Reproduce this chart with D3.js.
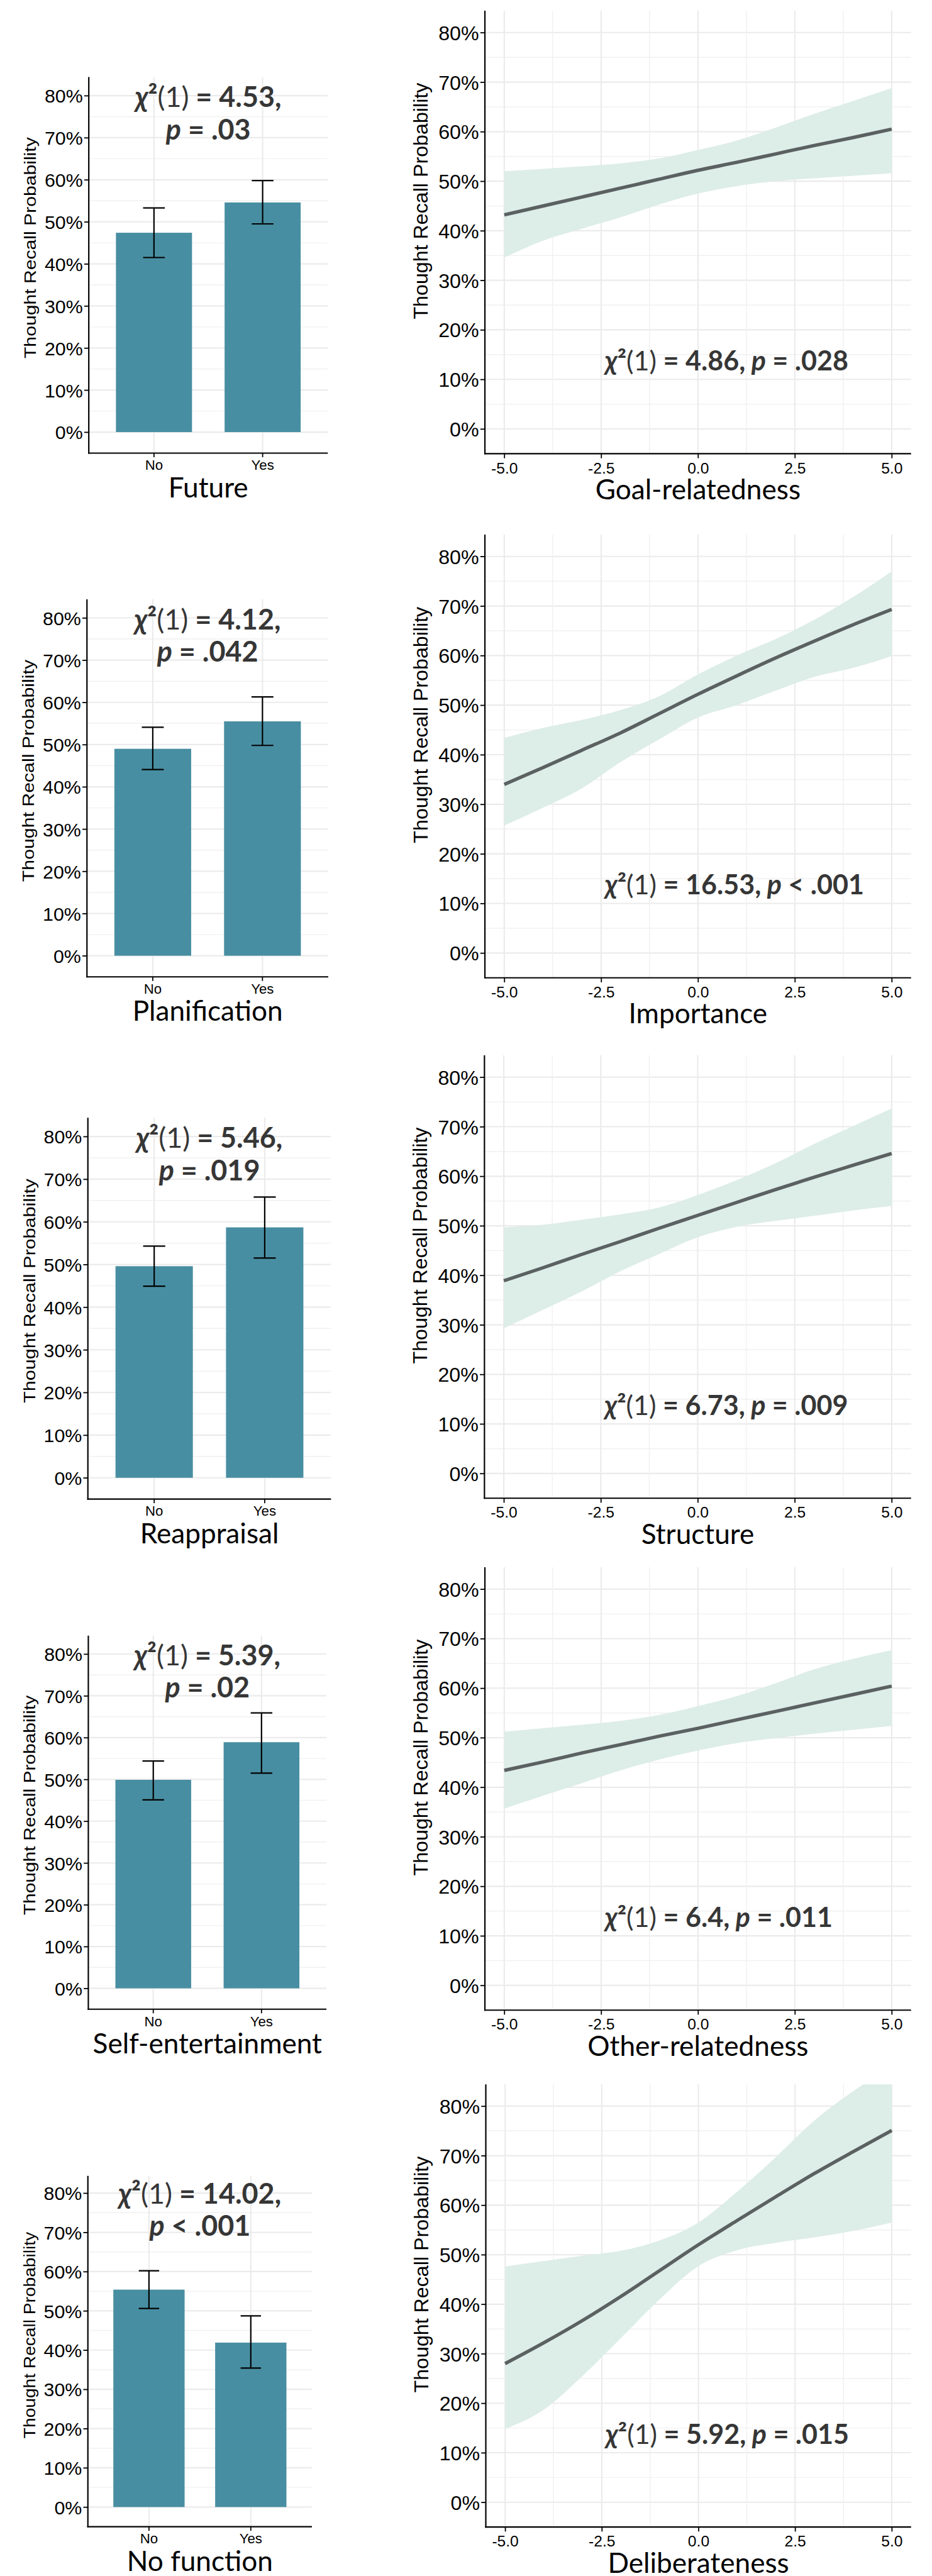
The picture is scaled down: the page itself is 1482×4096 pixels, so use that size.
<!DOCTYPE html>
<html>
<head>
<meta charset="utf-8">
<script src="https://cdn.jsdelivr.net/npm/d3@7"></script>
<style>
  body { margin: 0; background: #fff; }
  svg { display: block; }
</style>
</head>
<body>
<svg id="chart" width="1482" height="4096"></svg>
<script>
// ---------- data ----------
// Binary thought functions: recall probability (%) with 95% CI, by No / Yes
const barFactors = ["Future", "Planification", "Reappraisal", "Self-entertainment", "No function"];
const barCategories = ["No", "Yes"];
const barMeans = [[47.4, 54.6], [49.0, 55.5], [49.6, 58.7], [49.9, 58.9], [55.4, 41.9]];
const barLow   = [[41.5, 49.5], [44.1, 49.8], [44.9, 51.5], [45.1, 51.5], [50.6, 35.4]];
const barHigh  = [[53.3, 59.8], [54.1, 61.3], [54.3, 65.8], [54.4, 65.9], [60.2, 48.7]];
const barChiSq = ["4.53", "4.12", "5.46", "5.39", "14.02"];
const barPText = ["= .03", "= .042", "= .019", "= .02", "< .001"];

// Continuous thought characteristics: predicted recall probability (%) with 95% CI
const lineFactors = ["Goal-relatedness", "Importance", "Structure", "Other-relatedness", "Deliberateness"];
const lineChiSq = ["4.86", "16.53", "6.73", "6.4", "5.92"];
const linePText = ["= .028", "< .001", "= .009", "= .011", "= .015"];
const predX = [-5, -4, -3, -2, -1, 0, 1, 2, 3, 4, 5];
const predFit = [
  [43.2, 45.0, 46.8, 48.6, 50.4, 52.2, 53.8, 55.5, 57.2, 58.8, 60.5],
  [34.0, 37.4, 40.9, 44.4, 48.3, 52.2, 55.9, 59.5, 62.9, 66.2, 69.3],
  [38.9, 41.5, 44.2, 46.8, 49.5, 52.1, 54.7, 57.3, 59.8, 62.2, 64.6],
  [43.4, 45.1, 46.9, 48.6, 50.3, 51.9, 53.6, 55.3, 57.0, 58.7, 60.4],
  [28.0, 32.2, 36.7, 41.6, 46.8, 52.0, 56.9, 61.7, 66.4, 70.8, 75.1]
];
const predLow = [
  [34.6, 38.0, 40.4, 42.7, 45.3, 47.5, 49.0, 50.0, 50.6, 51.1, 51.6],
  [25.7, 29.3, 33.2, 38.5, 43.1, 47.5, 50.0, 52.9, 55.7, 57.5, 59.9],
  [29.3, 33.0, 36.7, 40.8, 44.3, 47.7, 49.8, 51.0, 52.0, 53.1, 54.0],
  [35.7, 38.3, 40.8, 43.4, 45.6, 47.4, 48.9, 49.9, 50.8, 51.6, 52.4],
  [14.8, 18.7, 25.5, 33.2, 41.0, 47.7, 50.9, 52.4, 53.5, 54.8, 56.5]
];
const predHigh = [
  [52.0, 52.5, 53.0, 53.6, 54.6, 56.3, 58.2, 60.8, 63.6, 66.2, 68.8],
  [43.4, 45.4, 47.0, 49.0, 51.8, 56.2, 60.0, 63.3, 67.2, 71.8, 77.0],
  [49.7, 50.2, 51.2, 52.3, 53.7, 56.2, 59.2, 62.6, 66.5, 70.1, 73.7],
  [51.2, 51.9, 52.6, 53.4, 54.6, 56.4, 58.4, 61.0, 63.8, 65.9, 67.7],
  [47.6, 48.7, 49.8, 50.8, 52.9, 56.5, 62.7, 69.7, 77.1, 83.0, 88.0]
];

const yTickValues = [0, 10, 20, 30, 40, 50, 60, 70, 80];
const yMinorValues = [5, 15, 25, 35, 45, 55, 65, 75];
const xTickValues = [-5, -2.5, 0, 2.5, 5];
const xMinorValues = [-3.75, -1.25, 1.25, 3.75];

// ---------- layout (drawn in a 2045 x 5652 frame, scaled to the window) ----------
const SCALE = 0.724;
const Y_EXTENT = [-5, 84.4];
const barFrames = [
  { axisX: 195, rightX: 720, y80: 210,    y0: 949 },
  { axisX: 191, rightX: 721, y80: 1357,   y0: 2099 },
  { axisX: 193, rightX: 727, y80: 2496,   y0: 3245.5 },
  { axisX: 194, rightX: 717, y80: 3632.6, y0: 4366.8 },
  { axisX: 193, rightX: 685, y80: 4816.5, y0: 5506 }
];
const lineFrames = [
  { axisX: 1065, rightX: 2001, y80: 71.5,   y0: 942 },
  { axisX: 1065, rightX: 2001, y80: 1222,   y0: 2093 },
  { axisX: 1064, rightX: 2001, y80: 2365.7, y0: 3236 },
  { axisX: 1065, rightX: 2001, y80: 3490,   y0: 4360.3 },
  { axisX: 1067, rightX: 2001, y80: 4625.5, y0: 5495.5 }
];

const ARIAL = "'Liberation Sans', Arial, sans-serif";
const CALIBRI = "Lato, 'Open Sans', 'Noto Sans', sans-serif";
const GRID_MAJOR = "#ebebeb";
const GRID_MINOR = "#f1f1f1";
const BAR_FILL = "#488ea2";
const BAND_FILL = "#ddede8";
const FIT_STROKE = "#5b6161";
const NOTE_FILL = "#363636";

const svg = d3.select("#chart");
const root = svg.append("g").attr("transform", `scale(${SCALE})`);

// χ²(1) = value, p … statistic, built from tspans
function addChi(textSel, chi) {
  textSel.append("tspan").attr("font-style", "italic").attr("font-weight", 700).text("χ");
  textSel.append("tspan").attr("font-weight", 700).text("²");
  textSel.append("tspan").attr("font-weight", 400).text("(1)");
  textSel.append("tspan").attr("font-weight", 700).text(" = " + chi + ",");
}
function addP(textSel, pText, leadSpace) {
  textSel.append("tspan").attr("font-style", "italic").attr("font-weight", 700).text((leadSpace ? " " : "") + "p");
  textSel.append("tspan").attr("font-weight", 700).text(" " + pText);
}

function drawYAxis(g, y, f, fontSize) {
  const top = y(Y_EXTENT[1]), bottom = y(Y_EXTENT[0]);
  const ax = g.append("g")
    .attr("transform", `translate(${f.axisX},0)`)
    .call(d3.axisLeft(y).tickValues(yTickValues).tickFormat(d => d + "%")
      .tickSize(10).tickPadding(3).tickSizeOuter(0));
  ax.select(".domain").remove();
  ax.selectAll(".tick line").attr("stroke", "#000").attr("stroke-width", 2.5);
  ax.selectAll(".tick text").attr("font-family", ARIAL).attr("font-size", fontSize)
    .attr("fill", "#000").attr("dy", "0.36em");
  g.append("line").attr("x1", f.axisX).attr("x2", f.axisX).attr("y1", top).attr("y2", bottom + 1.5)
    .attr("stroke", "#000").attr("stroke-width", 3);
  g.append("line").attr("x1", f.axisX - 1.5).attr("x2", f.rightX).attr("y1", bottom).attr("y2", bottom)
    .attr("stroke", "#000").attr("stroke-width", 3);
}

function drawHGrid(g, y, f) {
  g.selectAll(null).data(yMinorValues).join("line")
    .attr("x1", f.axisX).attr("x2", f.rightX).attr("y1", d => y(d)).attr("y2", d => y(d))
    .attr("stroke", GRID_MINOR).attr("stroke-width", 2);
  g.selectAll(null).data(yTickValues).join("line")
    .attr("x1", f.axisX).attr("x2", f.rightX).attr("y1", d => y(d)).attr("y2", d => y(d))
    .attr("stroke", GRID_MAJOR).attr("stroke-width", 3);
}

// ---------- bar panels ----------
barFactors.forEach((name, i) => {
  const f = barFrames[i];
  const g = root.append("g");
  const y = d3.scaleLinear().domain([0, 80]).range([f.y0, f.y80]);
  const x = d3.scaleBand().domain(barCategories).range([f.axisX, f.rightX])
    .paddingInner(0.3).paddingOuter(0.25);
  const step = x.step();
  const cx = c => x(c) + x.bandwidth() / 2;
  const top = y(Y_EXTENT[1]), bottom = y(Y_EXTENT[0]);

  drawHGrid(g, y, f);
  g.selectAll(null).data(barCategories).join("line")
    .attr("x1", cx).attr("x2", cx).attr("y1", top).attr("y2", bottom)
    .attr("stroke", GRID_MAJOR).attr("stroke-width", 3);

  const rows = barCategories.map((c, j) => ({ c, m: barMeans[i][j], lo: barLow[i][j], hi: barHigh[i][j] }));
  g.selectAll(null).data(rows).join("rect")
    .attr("x", d => x(d.c)).attr("width", x.bandwidth())
    .attr("y", d => y(d.m)).attr("height", d => y(0) - y(d.m))
    .attr("fill", BAR_FILL);
  const eb = g.selectAll(null).data(rows).join("g").attr("stroke", "#000").attr("stroke-width", 3);
  eb.append("line").attr("x1", d => cx(d.c)).attr("x2", d => cx(d.c)).attr("y1", d => y(d.lo)).attr("y2", d => y(d.hi));
  eb.append("line").attr("x1", d => cx(d.c) - step * 0.1).attr("x2", d => cx(d.c) + step * 0.1).attr("y1", d => y(d.lo)).attr("y2", d => y(d.lo));
  eb.append("line").attr("x1", d => cx(d.c) - step * 0.1).attr("x2", d => cx(d.c) + step * 0.1).attr("y1", d => y(d.hi)).attr("y2", d => y(d.hi));

  drawYAxis(g, y, f, 42);

  // x ticks and labels
  const xa = g.append("g").attr("transform", `translate(0,${bottom})`)
    .call(d3.axisBottom(x).tickSize(9).tickPadding(4).tickSizeOuter(0));
  xa.select(".domain").remove();
  xa.selectAll(".tick line").attr("stroke", "#000").attr("stroke-width", 2.5);
  xa.selectAll(".tick text").attr("font-family", ARIAL).attr("font-size", 30.7).attr("fill", "#000")
    .attr("dy", null).attr("y", 37).attr("dominant-baseline", "alphabetic");

  // titles
  const midX = (f.axisX + f.rightX) / 2;
  g.append("text").attr("x", midX).attr("y", bottom + 97).attr("text-anchor", "middle")
    .attr("font-family", CALIBRI).attr("font-size", 61).attr("fill", "#000").text(name);
  const tenPct = y(0) - y(10);
  g.append("text")
    .attr("transform", `translate(${f.axisX - 116},${y(43.8)}) rotate(-90)`)
    .attr("text-anchor", "middle").attr("font-family", ARIAL).attr("font-size", 36)
    .attr("textLength", tenPct * 5.26).attr("lengthAdjust", "spacingAndGlyphs")
    .attr("fill", "#000").text("Thought Recall Probability");

  // statistic
  const noteX = (cx("No") + cx("Yes")) / 2;
  const t1 = g.append("text").attr("x", noteX).attr("y", y(77.3)).attr("text-anchor", "middle")
    .attr("font-family", CALIBRI).attr("font-size", 62).attr("fill", NOTE_FILL);
  addChi(t1, barChiSq[i]);
  const t2 = g.append("text").attr("x", noteX).attr("y", y(77.3) + 71).attr("text-anchor", "middle")
    .attr("font-family", CALIBRI).attr("font-size", 62).attr("fill", NOTE_FILL);
  addP(t2, barPText[i], false);
});

// ---------- line panels ----------
lineFactors.forEach((name, i) => {
  const f = lineFrames[i];
  const g = root.append("g");
  const y = d3.scaleLinear().domain([0, 80]).range([f.y0, f.y80]);
  const x = d3.scaleLinear().domain([-5.5, 5.5]).range([f.axisX, f.rightX]);
  const top = y(Y_EXTENT[1]), bottom = y(Y_EXTENT[0]);

  drawHGrid(g, y, f);
  g.selectAll(null).data(xMinorValues).join("line")
    .attr("x1", d => x(d)).attr("x2", d => x(d)).attr("y1", top).attr("y2", bottom)
    .attr("stroke", GRID_MINOR).attr("stroke-width", 2);
  g.selectAll(null).data(xTickValues).join("line")
    .attr("x1", d => x(d)).attr("x2", d => x(d)).attr("y1", top).attr("y2", bottom)
    .attr("stroke", GRID_MAJOR).attr("stroke-width", 3);

  const clipId = "clip-line-" + i;
  root.append("clipPath").attr("id", clipId).append("rect")
    .attr("x", f.axisX).attr("y", top).attr("width", f.rightX - f.axisX).attr("height", bottom - top);

  const pts = predX.map((v, k) => ({ x: v, fit: predFit[i][k], lo: predLow[i][k], hi: predHigh[i][k] }));
  const plot = g.append("g").attr("clip-path", `url(#${clipId})`);
  plot.append("path").datum(pts)
    .attr("d", d3.area().x(d => x(d.x)).y0(d => y(d.lo)).y1(d => y(d.hi)).curve(d3.curveMonotoneX))
    .attr("fill", BAND_FILL);
  plot.append("path").datum(pts)
    .attr("d", d3.line().x(d => x(d.x)).y(d => y(d.fit)).curve(d3.curveMonotoneX))
    .attr("fill", "none").attr("stroke", FIT_STROKE).attr("stroke-width", 7.5);

  drawYAxis(g, y, f, 44.5);

  const xa = g.append("g").attr("transform", `translate(0,${bottom})`)
    .call(d3.axisBottom(x).tickValues(xTickValues).tickFormat(d => d.toFixed(1))
      .tickSize(10).tickPadding(4).tickSizeOuter(0));
  xa.select(".domain").remove();
  xa.selectAll(".tick line").attr("stroke", "#000").attr("stroke-width", 2.5);
  xa.selectAll(".tick text").attr("font-family", ARIAL).attr("font-size", 34).attr("fill", "#000")
    .attr("dy", null).attr("y", 43).attr("dominant-baseline", "alphabetic");

  const midX = (f.axisX + f.rightX) / 2;
  g.append("text").attr("x", midX).attr("y", bottom + 100).attr("text-anchor", "middle")
    .attr("font-family", CALIBRI).attr("font-size", 61).attr("fill", "#000").text(name);
  g.append("text")
    .attr("transform", `translate(${f.axisX - 126},${y(46)}) rotate(-90)`)
    .attr("text-anchor", "middle").attr("font-family", ARIAL).attr("font-size", 44.5)
    .attr("fill", "#000").text("Thought Recall Probability");

  const t = g.append("text").attr("x", x(-2.4)).attr("y", y(11.8)).attr("text-anchor", "start")
    .attr("font-family", CALIBRI).attr("font-size", 59.5).attr("fill", NOTE_FILL);
  addChi(t, lineChiSq[i]);
  addP(t, linePText[i], true);
});
</script>
</body>
</html>
